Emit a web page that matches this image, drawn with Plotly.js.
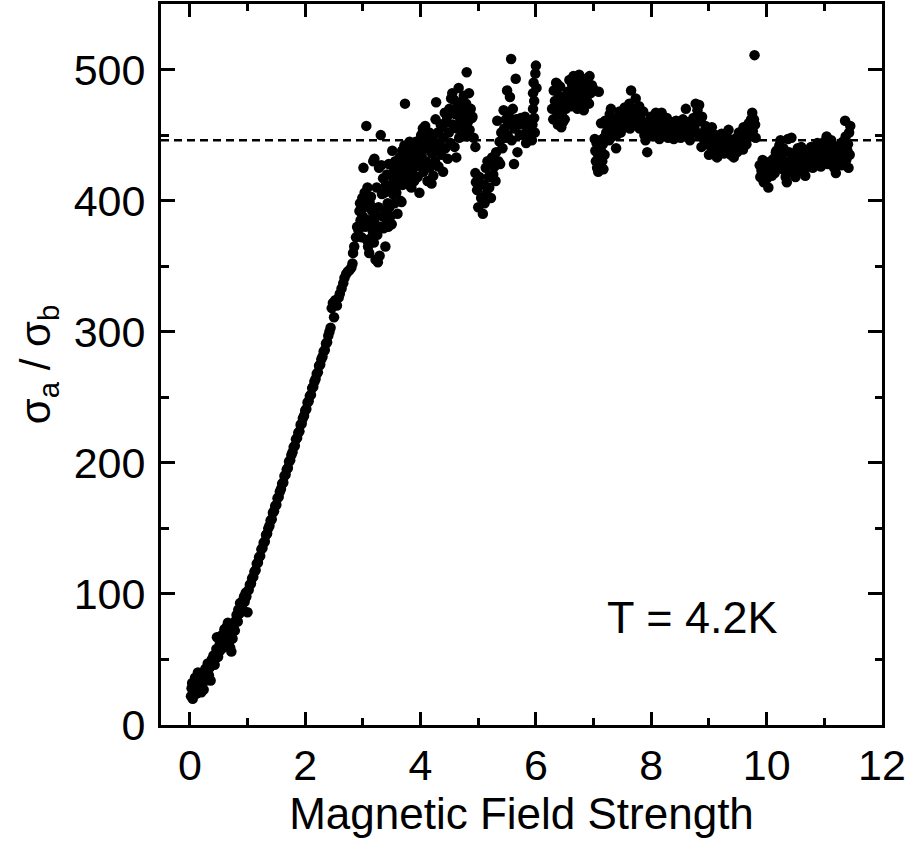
<!DOCTYPE html>
<html>
<head>
<meta charset="utf-8">
<script src="https://cdn.plot.ly/plotly-3.0.1.min.js"></script>
<style>html,body{margin:0;padding:0;background:#fff;}#chart{width:912px;height:842px;}</style>
</head>
<body>
<div id="chart"></div>
<script>
// ---- data ----
// low field, scattered start of the rise
const lowFieldX = [0.02,0.03,0.04,0.05,0.06,0.08,0.09,0.10,0.12,0.13,0.14,0.15,0.16,0.18,0.19,0.20,0.21,0.22,0.24,0.25,0.27,0.28,0.30,0.31,0.33,0.35,0.36,0.38,0.40,0.41,0.43,0.45,0.46,0.47,0.49,0.51,0.52,0.54,0.55,0.57,0.59,0.60,0.62,0.63,0.64,0.66,0.68,0.70,0.71,0.72,0.74,0.76,0.78,0.80,0.81,0.83,0.84,0.86,0.87,0.89,0.90,0.92,0.94,0.95,0.97,0.98,1.00];
const lowFieldY = [22,28,32,20,25,30,36,27,24,33,40,38,29,26,35,25,31,40,27,37,43,34,40,47,38,44,34,50,48,53,46,51,58,67,52,56,62,68,58,63,70,73,60,66,75,78,63,59,70,56,66,74,72,80,84,79,88,85,93,87,90,95,98,94,101,98,86];
// steep, tight part of the curve
const riseX = [1.02,1.04,1.06,1.08,1.10,1.12,1.14,1.16,1.18,1.20,1.22,1.24,1.26,1.28,1.30,1.32,1.34,1.36,1.38,1.40,1.42,1.44,1.46,1.48,1.50,1.52,1.54,1.56,1.58,1.60,1.62,1.64,1.66,1.68,1.70,1.72,1.74,1.76,1.78,1.80,1.82,1.84,1.86,1.88,1.90,1.92,1.94,1.96,1.98,2.00,2.02,2.04,2.06,2.08,2.10,2.12,2.14,2.16,2.18,2.20,2.22,2.24,2.26,2.28,2.30,2.32,2.34,2.36,2.38,2.40,2.42,2.44,2.46,2.48,2.50,2.52,2.55,2.58,2.60,2.63,2.66,2.68,2.71,2.74,2.77,2.80,2.82,2.83,2.85,2.88,2.90];
const riseY = [103,107,108,112,113,117,118,123,124,128,129,134,135,139,140,145,146,150,152,156,157,162,163,167,168,173,174,178,180,184,185,190,191,195,196,201,202,206,208,212,213,218,219,223,224,229,230,234,236,240,241,246,247,251,252,257,258,262,264,268,269,274,275,279,281,285,286,291,292,297,300,303,318,322,311,324,320,326,329,333,337,341,344,346,347,349,352,360,365,372,380];
// scattered plateau onset, 2.9 - 6.0
const onsetX = [2.92,2.94,2.95,2.96,2.98,2.99,3.00,3.01,3.02,3.03,3.04,3.05,3.06,3.07,3.08,3.09,3.10,3.11,3.12,3.13,3.14,3.15,3.16,3.17,3.18,3.19,3.20,3.21,3.22,3.23,3.24,3.25,3.26,3.27,3.28,3.29,3.30,3.31,3.32,3.33,3.34,3.35,3.36,3.37,3.38,3.39,3.40,3.41,3.42,3.43,3.44,3.45,3.46,3.47,3.48,3.49,3.50,3.51,3.52,3.53,3.54,3.55,3.56,3.57,3.58,3.59,3.60,3.61,3.62,3.63,3.64,3.65,3.66,3.67,3.68,3.69,3.70,3.71,3.72,3.73,3.74,3.75,3.76,3.77,3.78,3.79,3.80,3.81,3.82,3.83,3.84,3.85,3.86,3.87,3.88,3.89,3.90,3.91,3.92,3.93,3.95,3.96,3.98,3.99,4.00,4.01,4.02,4.04,4.05,4.06,4.08,4.09,4.10,4.12,4.13,4.15,4.16,4.18,4.19,4.20,4.22,4.23,4.25,4.26,4.27,4.28,4.30,4.31,4.33,4.35,4.36,4.38,4.39,4.40,4.42,4.43,4.44,4.46,4.47,4.49,4.50,4.52,4.53,4.55,4.56,4.58,4.59,4.60,4.62,4.63,4.65,4.66,4.67,4.69,4.70,4.72,4.73,4.75,4.76,4.78,4.79,4.80,4.81,4.82,4.84,4.85,4.87,4.89,4.90,4.92,4.95];
const onsetY = [378,392,398,385,372,402,388,425,395,406,380,400,457,370,410,365,385,360,398,370,403,372,392,377,430,368,432,382,355,388,410,374,353,395,425,358,380,450,427,405,388,417,379,406,392,365,412,385,420,398,380,428,395,410,388,420,382,438,405,416,425,398,430,410,406,422,390,428,415,418,433,400,425,399,438,412,428,420,442,474,416,436,425,440,418,430,412,445,423,437,410,428,442,420,433,415,440,426,445,430,418,438,406,446,428,450,435,455,422,442,457,430,447,415,440,452,425,445,413,436,419,450,430,462,475,440,452,426,444,458,435,456,422,448,467,440,460,464,432,452,470,444,478,482,458,477,441,466,433,455,472,486,448,462,475,456,469,480,450,466,474,498,449,460,482,454,470,463,464,448,441];
const dipX = [4.95,4.96,4.98,5.00,5.02,5.05,5.08,5.10,5.11,5.13,5.14,5.16,5.18,5.19,5.21,5.22,5.24,5.26,5.28,5.30,5.31,5.33,5.35,5.37,5.38,5.40,5.42,5.44,5.45,5.47,5.48,5.50,5.51,5.53,5.55,5.56,5.57,5.58,5.60,5.62,5.63,5.65,5.66,5.68,5.70,5.72,5.74,5.77,5.79,5.81,5.83,5.85,5.87,5.88,5.90,5.93,5.94,5.95,5.95,5.96,5.97,5.97,5.98,5.99,6.00,6.01];
const dipY = [421,414,408,395,418,402,390,412,398,425,405,430,418,410,428,402,433,420,426,415,437,461,430,445,428,452,440,469,455,448,462,484,450,465,479,458,508,446,470,428,455,493,462,437,458,450,463,458,450,464,444,455,448,460,452,446,458,470,482,490,476,463,452,497,503,486];
// high cluster, 6.25 - 7.1
const peakX = [6.28,6.30,6.31,6.33,6.35,6.36,6.37,6.38,6.40,6.42,6.43,6.44,6.45,6.47,6.48,6.50,6.52,6.55,6.57,6.58,6.60,6.62,6.63,6.65,6.67,6.68,6.70,6.72,6.73,6.75,6.77,6.78,6.80,6.82,6.83,6.85,6.87,6.88,6.90,6.92,6.93,6.95,6.97,7.00,7.09];
const peakY = [470,462,484,476,490,468,489,458,480,487,472,456,465,460,478,462,470,483,476,492,480,472,488,495,478,485,492,470,483,496,488,475,490,481,469,486,493,477,484,474,495,482,488,485,483];
// plateau, 7.0 - 9.85
const plateauX = [7.02,7.03,7.04,7.05,7.06,7.07,7.08,7.09,7.10,7.11,7.12,7.13,7.14,7.15,7.16,7.17,7.18,7.19,7.20,7.22,7.23,7.25,7.27,7.28,7.30,7.31,7.33,7.35,7.37,7.39,7.40,7.42,7.44,7.45,7.47,7.49,7.50,7.52,7.54,7.55,7.57,7.59,7.60,7.62,7.63,7.65,7.66,7.68,7.70,7.72,7.73,7.75,7.77,7.79,7.80,7.82,7.84,7.86,7.88,7.90,7.91,7.93,7.95,7.97,7.99,8.01,8.03,8.05,8.07,8.08,8.10,8.12,8.14,8.16,8.18,8.19,8.21,8.23,8.25,8.27,8.29,8.31,8.33,8.35,8.37,8.39,8.41,8.43,8.45,8.47,8.49,8.51,8.53,8.55,8.57,8.59,8.60,8.62,8.64,8.66,8.67,8.69,8.71,8.73,8.75,8.77,8.79,8.80,8.82,8.83,8.85,8.87,8.88,8.90,8.92,8.94,8.96,8.98,9.00,9.02,9.04,9.05,9.07,9.09,9.11,9.12,9.14,9.16,9.18,9.20,9.22,9.24,9.26,9.28,9.29,9.31,9.33,9.34,9.36,9.38,9.40,9.41,9.43,9.45,9.47,9.49,9.50,9.52,9.54,9.55,9.57,9.59,9.60,9.61,9.63,9.65,9.67,9.69,9.70,9.72,9.73,9.75,9.76,9.78,9.79,9.80,9.81];
const plateauY = [447,438,430,444,425,436,422,441,432,428,446,459,437,430,443,424,448,435,461,452,460,455,446,466,470,458,449,462,455,440,450,463,457,468,452,460,466,456,471,462,468,458,464,474,455,484,466,460,470,463,478,458,467,472,455,462,459,468,450,446,454,437,460,452,464,457,449,462,455,467,452,460,447,458,467,454,461,450,457,463,448,455,460,452,458,447,456,461,450,459,453,448,457,462,451,458,470,455,449,460,446,457,452,463,455,474,460,469,450,473,461,441,464,452,446,457,443,450,435,449,441,456,445,438,450,446,433,443,448,439,451,444,436,447,441,449,438,454,444,435,446,440,433,447,442,437,449,452,444,441,448,439,456,446,451,443,455,459,449,457,462,467,453,462,511,458,448];
// high field end, 9.85 - 11.45
const highFieldX = [9.88,9.89,9.91,9.93,9.95,9.97,9.99,10.01,10.03,10.05,10.07,10.09,10.11,10.12,10.14,10.16,10.17,10.19,10.21,10.22,10.24,10.26,10.28,10.29,10.31,10.33,10.35,10.36,10.37,10.39,10.41,10.43,10.44,10.46,10.48,10.50,10.52,10.54,10.55,10.57,10.59,10.60,10.62,10.64,10.66,10.67,10.69,10.71,10.73,10.75,10.77,10.78,10.80,10.82,10.84,10.86,10.88,10.90,10.92,10.94,10.96,10.98,11.00,11.02,11.04,11.06,11.08,11.10,11.12,11.13,11.15,11.17,11.19,11.20,11.22,11.24,11.26,11.28,11.30,11.32,11.34,11.36,11.37,11.38,11.40,11.41,11.42,11.43,11.44,11.45];
const highFieldY = [427,418,423,431,414,421,428,417,410,424,430,419,426,432,421,437,438,429,427,442,446,435,424,440,430,418,414,426,447,437,422,448,431,425,436,418,429,440,424,433,427,441,436,422,430,419,438,426,434,429,441,438,425,432,437,428,444,443,433,426,439,431,445,436,449,428,440,434,446,430,441,425,438,421,435,429,442,433,427,445,438,461,449,431,438,443,425,452,435,457];

const xTickValues = [0, 2, 4, 6, 8, 10, 12];
const yTickValues = [0, 100, 200, 300, 400, 500];
const referenceLevel = 446;
const xTitle = 'Magnetic Field Strength';
const yTitle = 'σ<sub>a</sub> / σ<sub>b</sub>';
const noteText = 'T = 4.2K';
const notePosition = {x: 8.71, y: 82};

const allX = [].concat(lowFieldX, riseX, onsetX, dipX, peakX, plateauX, highFieldX);
const allY = [].concat(lowFieldY, riseY, onsetY, dipY, peakY, plateauY, highFieldY);

const FONT = 'Liberation Sans, Arial, Helvetica, sans-serif';

const trace = {
  type: 'scatter', mode: 'markers',
  x: allX, y: allY,
  marker: {color: '#000', size: 10.5, line: {width: 0}},
  hoverinfo: 'x+y'
};

function axisBase() {
  return {
    showline: true, linewidth: 3, linecolor: '#000', mirror: 'ticks',
    ticks: 'inside', tickwidth: 3, tickcolor: '#000',
    showgrid: false, zeroline: false,
    tickfont: {family: FONT, size: 43, color: '#000'},
    fixedrange: true
  };
}

const xaxis = Object.assign(axisBase(), {
  range: [-0.5, 12], tickmode: 'array', tickvals: xTickValues,
  ticklen: 13,
  minor: {dtick: 1, tick0: 0, ticks: 'inside', ticklen: 7, tickwidth: 3, tickcolor: '#000', showgrid: false},
  title: {text: xTitle, font: {family: FONT, size: 44, color: '#000'}, standoff: 5}
});
const yaxis = Object.assign(axisBase(), {
  range: [0, 550], tickmode: 'array', tickvals: yTickValues,
  ticklen: 14, ticklabelstandoff: 4,
  minor: {dtick: 50, tick0: 0, ticks: 'inside', ticklen: 7.5, tickwidth: 3, tickcolor: '#000', showgrid: false},
  title: {text: yTitle, font: {family: FONT, size: 42, color: '#000'}, standoff: 10}
});

const layout = {
  width: 912, height: 842,
  margin: {l: 161, r: 30, t: 4, b: 117},
  paper_bgcolor: '#fff', plot_bgcolor: '#fff',
  showlegend: false,
  font: {family: FONT, color: '#000'},
  xaxis: xaxis, yaxis: yaxis,
  shapes: [{
    type: 'line', xref: 'paper', x0: 0, x1: 1, yref: 'y', y0: referenceLevel, y1: referenceLevel,
    layer: 'below', line: {color: '#000', width: 2.5, dash: '8px,5px'}
  }],
  annotations: [{
    text: noteText, x: notePosition.x, y: notePosition.y, xref: 'x', yref: 'y',
    showarrow: false, font: {family: FONT, size: 45, color: '#000'}
  }]
};

Plotly.newPlot('chart', [trace], layout, {displayModeBar: false, staticPlot: true});
</script>
</body>
</html>
